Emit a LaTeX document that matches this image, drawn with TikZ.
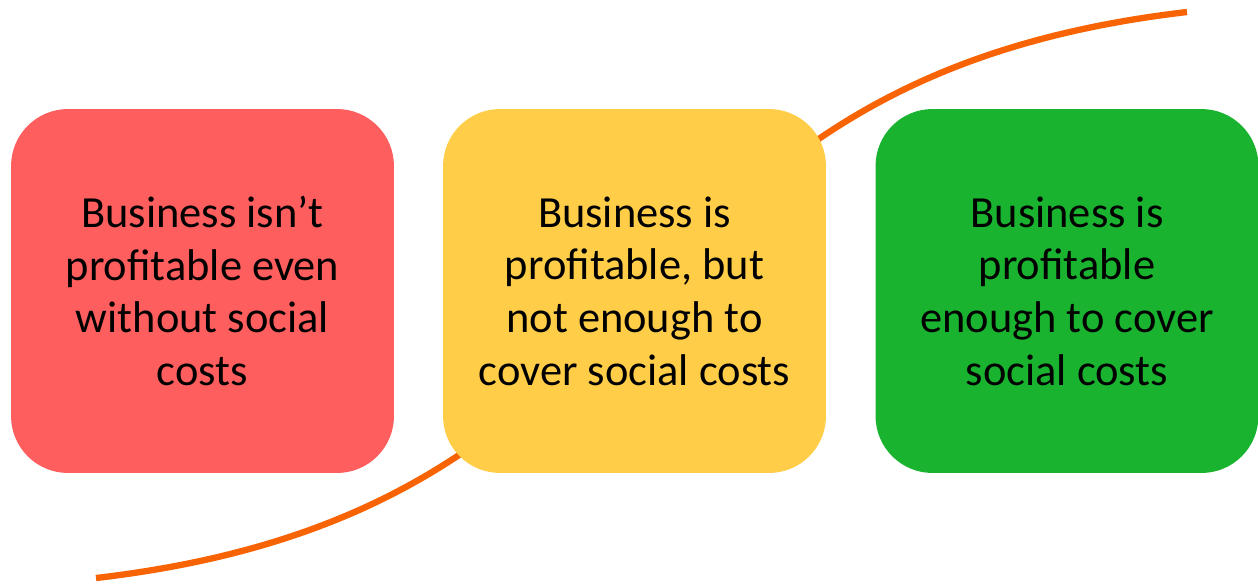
\documentclass[tikz,border=0pt]{standalone}
\usepackage{fontspec}
\setmainfont{Carlito}
\definecolor{lossred}{HTML}{FF5E5E}
\definecolor{midyellow}{HTML}{FFCD47}
\definecolor{gaingreen}{HTML}{1AB330}
\definecolor{curveorange}{HTML}{F86304}
\tikzset{
  verdict/.style={rectangle,rounded corners=1.14cm,minimum width=7.66cm,
    minimum height=7.28cm,inner sep=0pt,align=center,
    font=\fontsize{25.3}{30}\selectfont}
}
\begin{document}
\begin{tikzpicture}[x=0.02cm,y=-0.02cm]
\useasboundingbox(0,0)rectangle(1258,583);
\coordinate(lo)at(96,578);
\coordinate(hi)at(1187,12);
\draw[draw=curveorange,line width=3.6pt](lo)..controls(697,508)and(587,82)..(hi);
\node[verdict,fill=lossred](loss)at(202.5,291){Business isn’t\\profitable even\\without social\\costs};
\node[verdict,fill=midyellow](partial)at(634.5,291){Business is\\profitable, but\\not enough to\\cover social costs};
\node[verdict,fill=gaingreen](gain)at(1067,291){Business is\\profitable\\enough to cover\\social costs};
\end{tikzpicture}
\end{document}
